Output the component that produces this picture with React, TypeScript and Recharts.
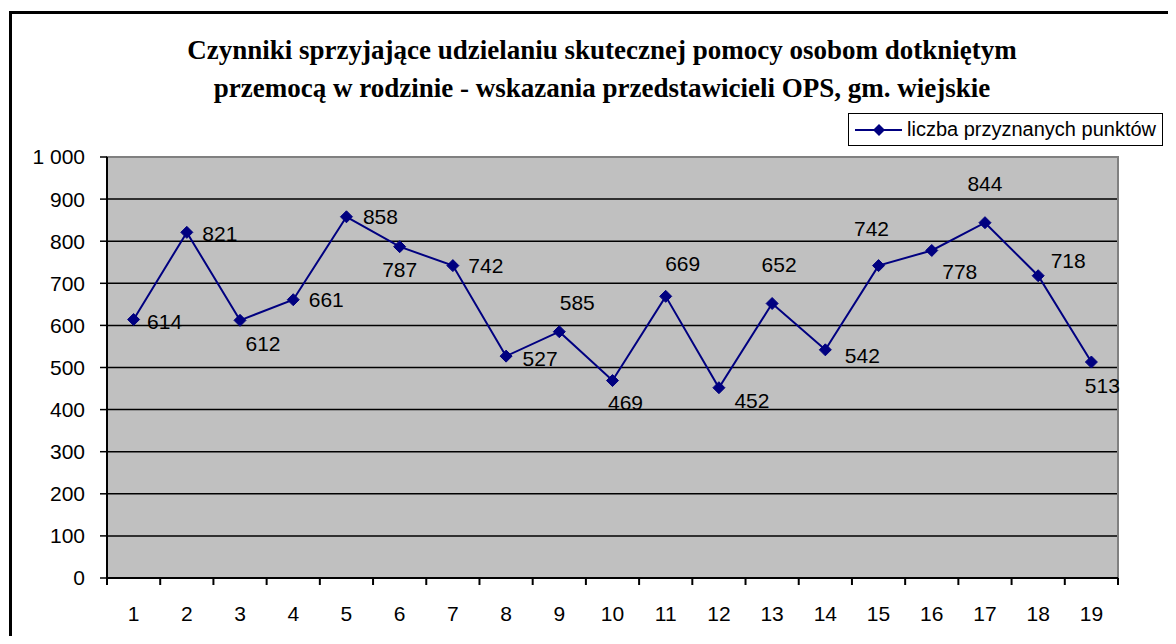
import React from 'react';
import {
  LineChart,
  Line,
  XAxis,
  YAxis,
  CartesianGrid,
  Legend,
  LabelList,
  ReferenceArea,
} from 'recharts';

const categories = ['1', '2', '3', '4', '5', '6', '7', '8', '9', '10', '11', '12', '13', '14', '15', '16', '17', '18', '19'];
const points = [614, 821, 612, 661, 858, 787, 742, 527, 585, 469, 669, 452, 652, 542, 742, 778, 844, 718, 513];
const yTicks = [0, 100, 200, 300, 400, 500, 600, 700, 800, 900, 1000];
const seriesName = 'liczba przyznanych punktów';
const titleLines = [
  'Czynniki sprzyjające udzielaniu skutecznej pomocy osobom dotkniętym',
  'przemocą w rodzinie - wskazania przedstawicieli OPS, gm. wiejskie',
];

// where Excel put each value label, relative to its point
const labelOffset = [
  [31, 2], [33, 1], [23, 23], [33, 0], [34, 0], [0, 23], [33, 0], [34, 2], [18, -29], [13, 22],
  [17, -33], [33, 13], [7, -39], [37, 6], [-7, -37], [28, 21], [0, -39], [30, -15], [11, 23],
];

const data = categories.map((c, i) => ({ cat: c, value: points[i] }));

const NAVY = '#000080';
const FONT = '"Liberation Sans", Arial, sans-serif';

const fmt = (v: number) => String(v).replace(/\B(?=(\d{3})+(?!\d))/g, '  ');

const Diamond = (props: any) => {
  const { cx, cy } = props;
  if (cx == null || cy == null) return null;
  const r = 6;
  return (
    <polygon
      points={`${cx},${cy - r} ${cx + r},${cy} ${cx},${cy + r} ${cx - r},${cy}`}
      fill={NAVY}
      stroke={NAVY}
    />
  );
};

const XTick = (props: any) => {
  const { x, y, payload, index, visibleTicksCount } = props;
  const half = payload.offset || 0;
  const last = index === visibleTicksCount - 1;
  return (
    <g>
      <line x1={x - half} x2={x - half} y1={y} y2={y + 7} stroke="#000" strokeWidth={2} />
      {last && <line x1={x + half} x2={x + half} y1={y} y2={y + 7} stroke="#000" strokeWidth={2} />}
      <text x={x} y={y + 35} textAnchor="middle" dominantBaseline="central" fontSize={21} fill="#000">
        {payload.value}
      </text>
    </g>
  );
};

const ValueLabel = (props: any) => {
  const { x, y, value, index } = props;
  const [dx, dy] = labelOffset[index] || [0, 0];
  return (
    <text x={x + dx} y={y + dy} textAnchor="middle" dominantBaseline="central" fontSize={21} fill="#000">
      {value}
    </text>
  );
};

const LegendBox = () => (
  <div
    style={{
      border: '1px solid #000',
      background: '#fff',
      height: 33,
      display: 'flex',
      alignItems: 'center',
      fontFamily: FONT,
      fontSize: 20,
      color: '#000',
      boxSizing: 'border-box',
    }}
  >
    <svg width={52} height={20} style={{ marginLeft: 6 }}>
      <line x1={0} x2={47} y1={10} y2={10} stroke={NAVY} strokeWidth={2} />
      <polygon points="24,4 30,10 24,16 18,10" fill={NAVY} />
    </svg>
    <span>{seriesName}</span>
  </div>
);

export default function App() {
  return (
    <div style={{ position: 'relative', width: 1160, height: 628, overflow: 'hidden', fontFamily: FONT }}>
      <div
        style={{
          position: 'absolute',
          left: 1,
          top: 3,
          width: 2000,
          height: 2000,
          borderLeft: '3px solid #000',
          borderTop: '3px solid #000',
        }}
      />
      <div
        style={{
          position: 'absolute',
          left: 0,
          top: 23,
          width: 1188,
          textAlign: 'center',
          fontFamily: '"Liberation Serif", "Times New Roman", serif',
          fontWeight: 'bold',
          fontSize: 27,
          lineHeight: '38px',
          color: '#000',
        }}
      >
        {titleLines.map((t) => (
          <div key={t}>{t}</div>
        ))}
      </div>
      <LineChart width={1160} height={628} data={data} margin={{ top: 149, right: 50, bottom: 18, left: 9 }}>
        <CartesianGrid vertical={false} stroke="#000" strokeWidth={1.5} fill="#C0C0C0" fillOpacity={1} />
        <ReferenceArea y1={0} y2={1000} fill="none" stroke="#808080" strokeWidth={2} />
        <XAxis
          dataKey="cat"
          scale="band"
          interval={0}
          height={40}
          tickLine={false}
          tickSize={0}
          tickMargin={0}
          axisLine={{ stroke: '#000', strokeWidth: 2 }}
          tick={<XTick />}
        />
        <YAxis
          width={90}
          domain={[0, 1000]}
          ticks={yTicks}
          interval={0}
          tickFormatter={fmt}
          tickSize={7}
          tickMargin={15}
          axisLine={{ stroke: '#000', strokeWidth: 2 }}
          tickLine={{ stroke: '#000', strokeWidth: 1.5 }}
          tick={{ fill: '#000', fontSize: 21, style: { whiteSpace: 'pre' } }}
        />
        <Legend
          layout="vertical"
          align="center"
          verticalAlign="middle"
          wrapperStyle={{ top: 105, left: 840, width: 315 }}
          content={<LegendBox />}
        />
        <Line
          type="linear"
          dataKey="value"
          name={seriesName}
          stroke={NAVY}
          strokeWidth={2}
          dot={<Diamond />}
          activeDot={false}
          isAnimationActive={false}
        >
          <LabelList dataKey="value" content={<ValueLabel />} />
        </Line>
      </LineChart>
    </div>
  );
}
